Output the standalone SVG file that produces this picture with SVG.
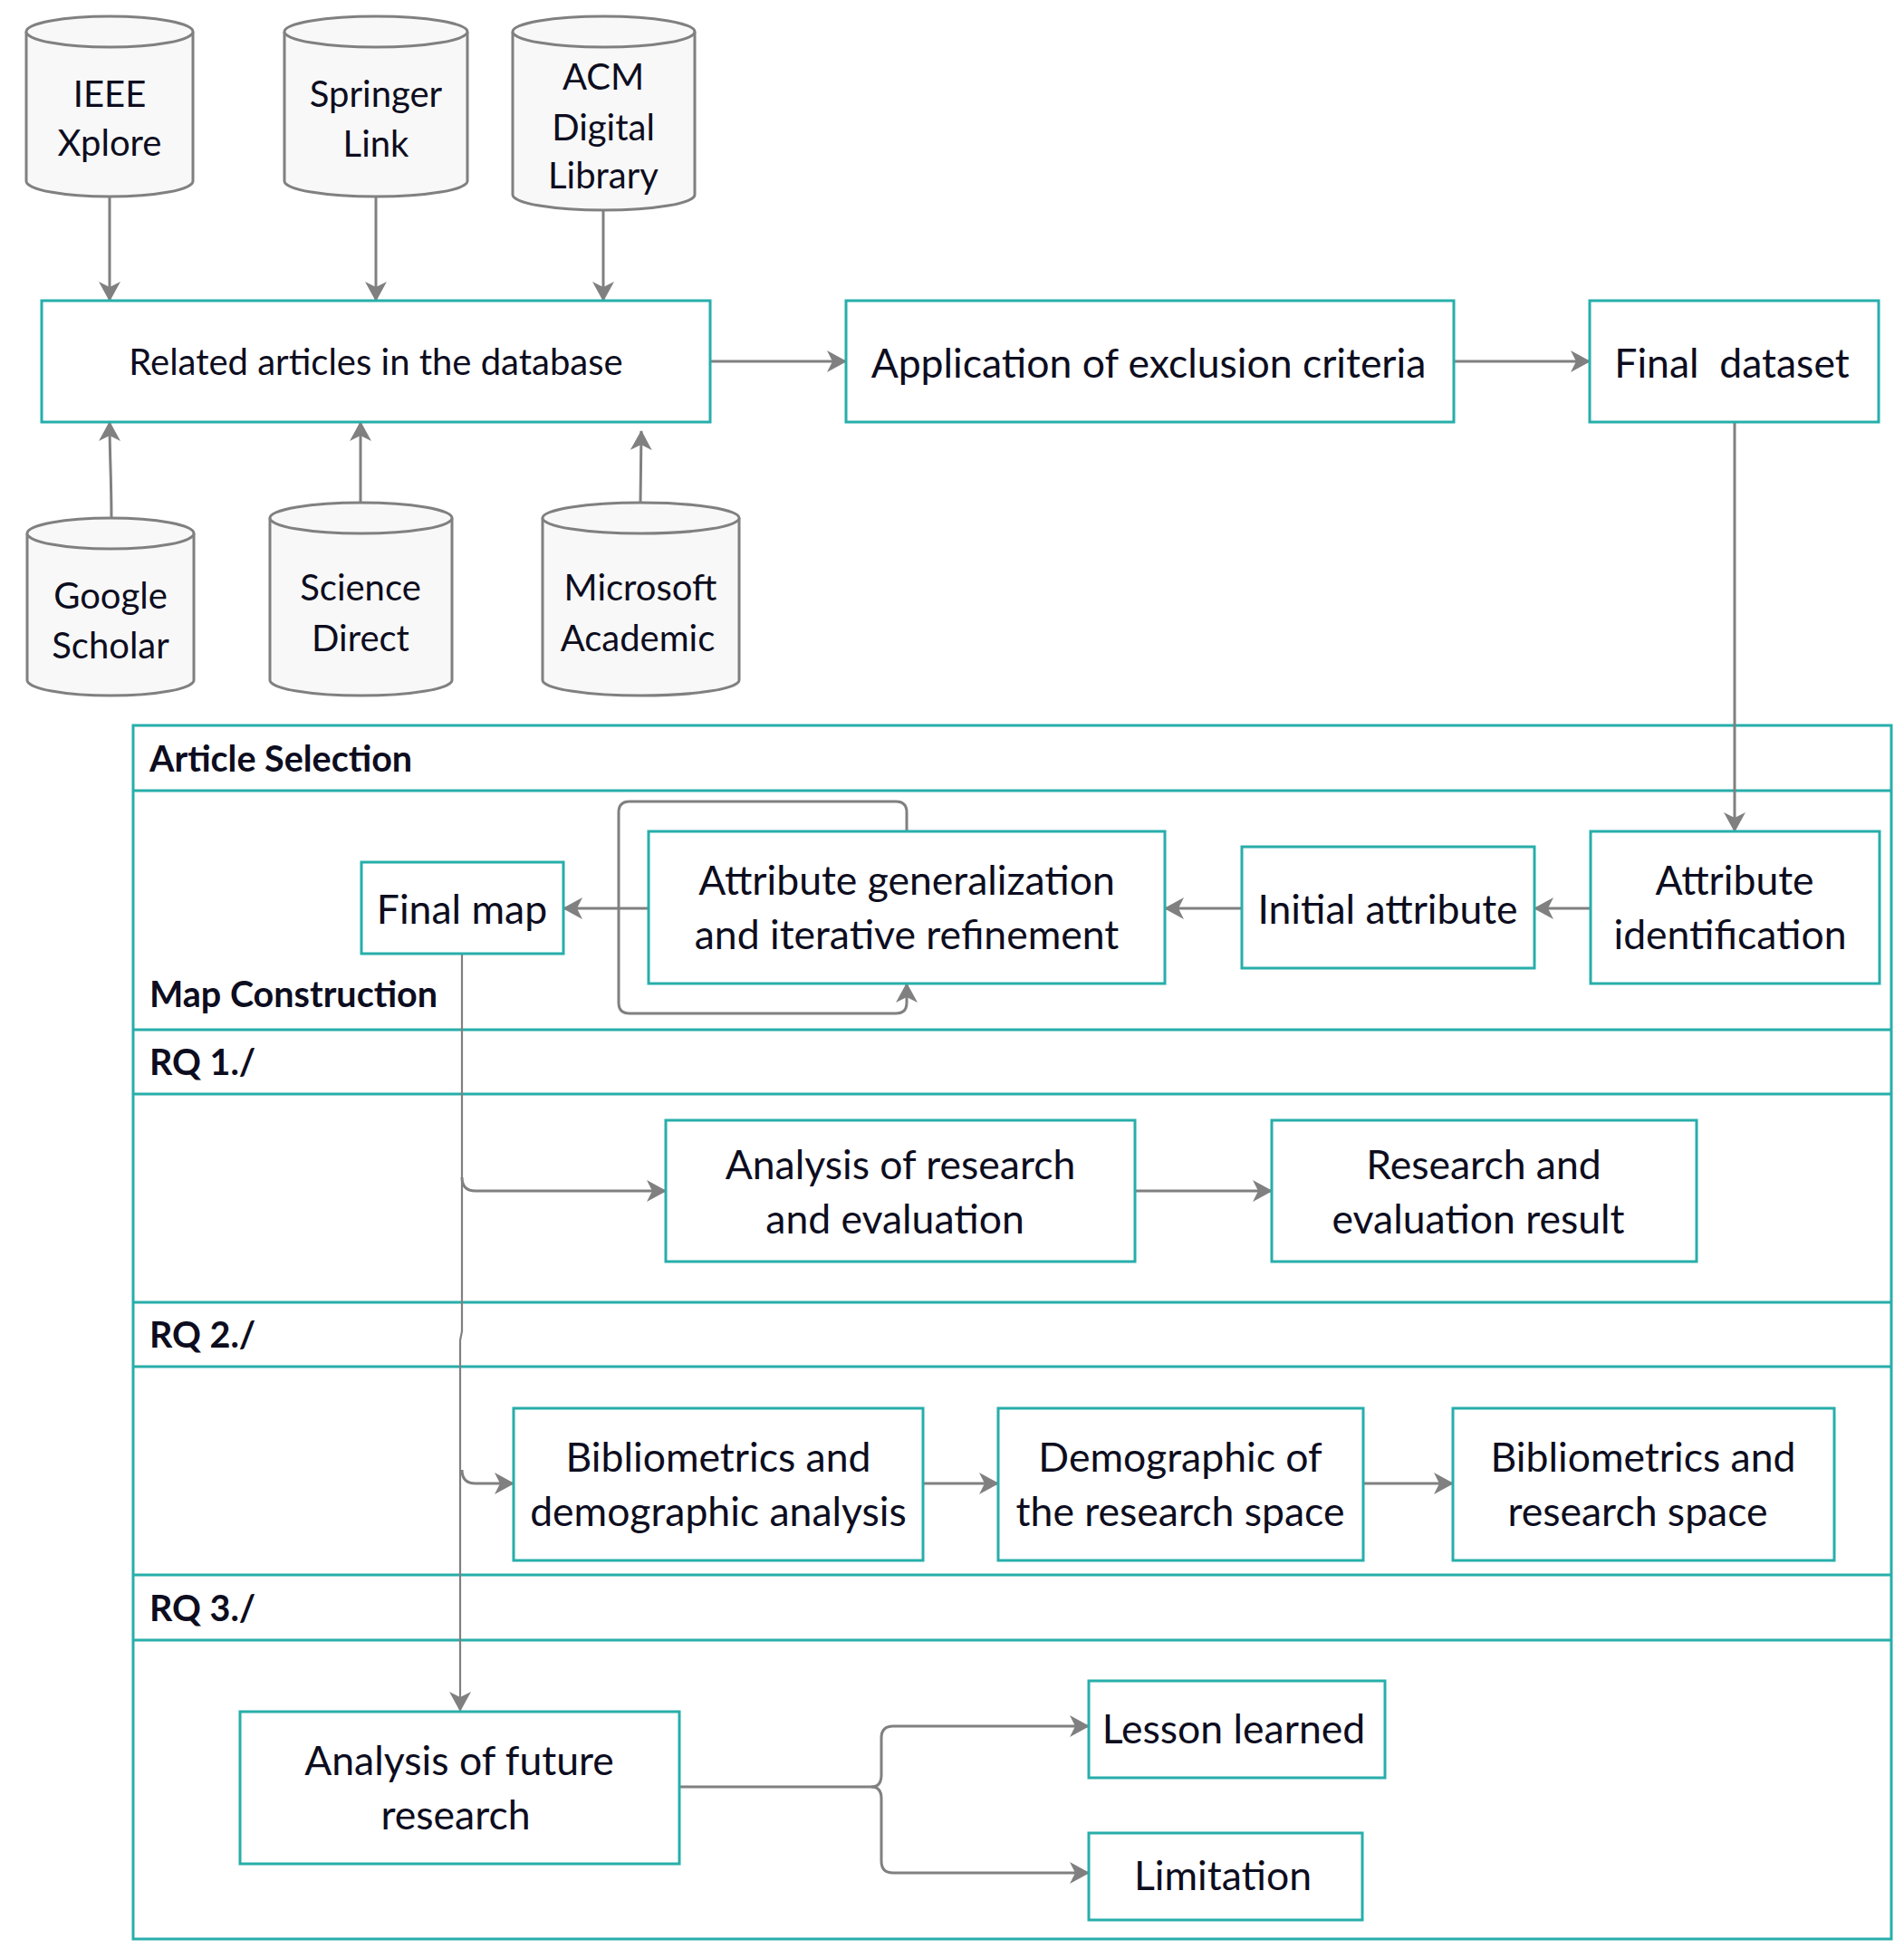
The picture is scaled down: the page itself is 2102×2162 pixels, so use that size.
<svg xmlns="http://www.w3.org/2000/svg" width="2102" height="2162" viewBox="0 0 2102 2162">
<defs>
<marker id="ah" markerUnits="userSpaceOnUse" markerWidth="22" markerHeight="24" viewBox="0 0 22 24" refX="21" refY="12" orient="auto">
<path d="M0,0 L22,12 L0,24 L6,12 Z" fill="#808080"/>
</marker>
<style>
.t{font-family:Lato,"Open Sans","Liberation Sans",sans-serif;font-size:44.5px;fill:#0d0d20;text-anchor:middle}
.c{font-size:40px}
.r{font-size:40px}
.h{font-family:Lato,"Open Sans","Liberation Sans",sans-serif;font-size:39.5px;font-weight:bold;fill:#0d0d20}
.box{fill:#ffffff;stroke:#27aeaa;stroke-width:3}
.cyl{fill:#f8f8f8;stroke:#808080;stroke-width:3}
.lane{fill:none;stroke:#27aeaa;stroke-width:3}
.con{fill:none;stroke:#808080;stroke-width:3}
.thin{fill:none;stroke:#808080;stroke-width:2.2}
</style>
</defs>
<rect width="2102" height="2162" fill="#ffffff"/>

<g id="container">
<rect class="lane" x="147" y="801" width="1941" height="1340"/>
<line class="lane" x1="147" y1="873" x2="2088" y2="873"/>
<line class="lane" x1="147" y1="1137" x2="2088" y2="1137"/>
<line class="lane" x1="147" y1="1208" x2="2088" y2="1208"/>
<line class="lane" x1="147" y1="1438" x2="2088" y2="1438"/>
<line class="lane" x1="147" y1="1509" x2="2088" y2="1509"/>
<line class="lane" x1="147" y1="1739" x2="2088" y2="1739"/>
<line class="lane" x1="147" y1="1811" x2="2088" y2="1811"/>
<text class="h" x="165" y="852">Article Selection</text>
<text class="h" x="165" y="1112">Map Construction</text>
<text class="h" x="165" y="1187">RQ 1./</text>
<text class="h" x="165" y="1488">RQ 2./</text>
<text class="h" x="165" y="1790">RQ 3./</text>
</g>

<g id="connectors">
<path class="con" d="M121,217 L121,332" marker-end="url(#ah)"/>
<path class="con" d="M415,217 L415,332" marker-end="url(#ah)"/>
<path class="con" d="M666,232 L666,332" marker-end="url(#ah)"/>
<path class="con" d="M123,572 C123,530 121,500 121,466" marker-end="url(#ah)"/>
<path class="con" d="M398,555 L398,466" marker-end="url(#ah)"/>
<path class="con" d="M707,555 L708,476" marker-end="url(#ah)"/>
<path class="con" d="M784,399 L934,399" marker-end="url(#ah)"/>
<path class="con" d="M1605,399 L1755,399" marker-end="url(#ah)"/>
<path class="con" d="M1915,466 L1915,918" marker-end="url(#ah)"/>
<path class="con" d="M1756,1003 L1694,1003" marker-end="url(#ah)"/>
<path class="con" d="M1371,1003 L1286,1003" marker-end="url(#ah)"/>
<path class="con" d="M716,1003 L622,1003" marker-end="url(#ah)"/>
<path class="con" d="M1001,918 L1001,897 Q1001,885 989,885 L695,885 Q683,885 683,897 L683,1107 Q683,1119 695,1119 L989,1119 Q1001,1119 1001,1107 L1001,1086" marker-end="url(#ah)"/>
<path class="thin" d="M510,1053 L510,1470 L508,1480 L508,1889" marker-end="url(#ah)"/>
<path class="con" d="M510,1300 Q510,1315 525,1315 L735,1315" marker-end="url(#ah)"/>
<path class="con" d="M1253,1315 L1404,1315" marker-end="url(#ah)"/>
<path class="con" d="M510,1623 Q510,1638 525,1638 L567,1638" marker-end="url(#ah)"/>
<path class="con" d="M1019,1638 L1102,1638" marker-end="url(#ah)"/>
<path class="con" d="M1505,1638 L1604,1638" marker-end="url(#ah)"/>
<path class="con" d="M750,1973 L962,1973"/>
<path class="con" d="M962,1973 Q973,1973 973,1960 L973,1919 Q973,1906 986,1906 L1202,1906" marker-end="url(#ah)"/>
<path class="con" d="M962,1973 Q973,1973 973,1986 L973,2055 Q973,2068 986,2068 L1202,2068" marker-end="url(#ah)"/>
</g>

<g id="ieee">
<path class="cyl" d="M29,35 A92,17 0 0 1 213,35 L213,200 A92,17 0 0 1 29,200 Z"/>
<path class="cyl" d="M29,35 A92,17 0 0 0 213,35" fill="none"/>
<text class="t c" x="121" y="118">IEEE</text>
<text class="t c" x="121" y="172">Xplore</text>
</g>
<g id="springer">
<path class="cyl" d="M314,35 A101,17 0 0 1 516,35 L516,200 A101,17 0 0 1 314,200 Z"/>
<path class="cyl" d="M314,35 A101,17 0 0 0 516,35" fill="none"/>
<text class="t c" x="415" y="118">Springer</text>
<text class="t c" x="415" y="173">Link</text>
</g>
<g id="acm">
<path class="cyl" d="M566,35 A100,17 0 0 1 767,35 L767,215 A100,17 0 0 1 566,215 Z"/>
<path class="cyl" d="M566,35 A100,17 0 0 0 767,35" fill="none"/>
<text class="t c" x="666" y="99">ACM</text>
<text class="t c" x="666" y="155">Digital</text>
<text class="t c" x="666" y="208">Library</text>
</g>
<g id="google">
<path class="cyl" d="M30,589 A92,17 0 0 1 214,589 L214,751 A92,17 0 0 1 30,751 Z"/>
<path class="cyl" d="M30,589 A92,17 0 0 0 214,589" fill="none"/>
<text class="t c" x="122" y="672">Google</text>
<text class="t c" x="122" y="727">Scholar</text>
</g>
<g id="science">
<path class="cyl" d="M298,572 A100,17 0 0 1 499,572 L499,751 A100,17 0 0 1 298,751 Z"/>
<path class="cyl" d="M298,572 A100,17 0 0 0 499,572" fill="none"/>
<text class="t c" x="398" y="663">Science</text>
<text class="t c" x="398" y="719">Direct</text>
</g>
<g id="microsoft">
<path class="cyl" d="M599,572 A108,17 0 0 1 816,572 L816,751 A108,17 0 0 1 599,751 Z"/>
<path class="cyl" d="M599,572 A108,17 0 0 0 816,572" fill="none"/>
<text class="t c" x="707" y="663">Microsoft</text>
<text class="t c" x="704" y="719">Academic</text>
</g>

<g id="related">
<rect class="box" x="46" y="332" width="738" height="134"/>
<text class="t r" x="415" y="414">Related articles in the database</text>
</g>
<g id="exclusion">
<rect class="box" x="934" y="332" width="671" height="134"/>
<text class="t" x="1268" y="417">Application of exclusion criteria</text>
</g>
<g id="finaldataset">
<rect class="box" x="1755" y="332" width="319" height="134"/>
<text class="t" x="1912" y="417" xml:space="preserve">Final  dataset</text>
</g>
<g id="attrid">
<rect class="box" x="1756" y="918" width="319" height="168"/>
<text class="t" x="1915" y="988">Attribute</text>
<text class="t" x="1910" y="1048">identification</text>
</g>
<g id="initial">
<rect class="box" x="1371" y="935" width="323" height="134"/>
<text class="t" x="1532" y="1020">Initial attribute</text>
</g>
<g id="attrgen">
<rect class="box" x="716" y="918" width="570" height="168"/>
<text class="t" x="1001" y="988">Attribute generalization</text>
<text class="t" x="1001" y="1048">and iterative refinement</text>
</g>
<g id="finalmap">
<rect class="box" x="399" y="952" width="223" height="101"/>
<text class="t" x="510" y="1020">Final map</text>
</g>
<g id="analysisresearch">
<rect class="box" x="735" y="1237" width="518" height="156"/>
<text class="t" x="994" y="1302">Analysis of research</text>
<text class="t" x="988" y="1362">and evaluation</text>
</g>
<g id="researchresult">
<rect class="box" x="1404" y="1237" width="469" height="156"/>
<text class="t" x="1638" y="1302">Research and</text>
<text class="t" x="1632" y="1362">evaluation result</text>
</g>
<g id="biblio1">
<rect class="box" x="567" y="1555" width="452" height="168"/>
<text class="t" x="793" y="1625">Bibliometrics and</text>
<text class="t" x="793" y="1685">demographic analysis</text>
</g>
<g id="demographic">
<rect class="box" x="1102" y="1555" width="403" height="168"/>
<text class="t" x="1303" y="1625">Demographic of</text>
<text class="t" x="1303" y="1685">the research space</text>
</g>
<g id="biblio2">
<rect class="box" x="1604" y="1555" width="421" height="168"/>
<text class="t" x="1814" y="1625">Bibliometrics and</text>
<text class="t" x="1808" y="1685">research space</text>
</g>
<g id="future">
<rect class="box" x="265" y="1890" width="485" height="168"/>
<text class="t" x="507" y="1960">Analysis of future</text>
<text class="t" x="503" y="2020">research</text>
</g>
<g id="lesson">
<rect class="box" x="1202" y="1856" width="327" height="107"/>
<text class="t" x="1362" y="1925">Lesson learned</text>
</g>
<g id="limitation">
<rect class="box" x="1202" y="2024" width="302" height="96"/>
<text class="t" x="1350" y="2087">Limitation</text>
</g>
</svg>
